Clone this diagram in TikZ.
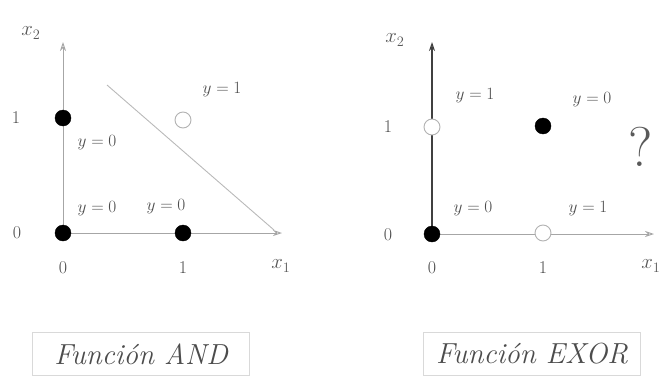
\documentclass[tikz,border=0pt]{standalone}
\usetikzlibrary{arrows.meta}
\begin{document}
\begin{tikzpicture}[x=1pt,y=-1pt,
  axis/.style={draw=gray!70,line width=0.9pt,-{Stealth[length=9pt,width=6pt,open]}},
  axisdark/.style={draw=black!75,line width=1.1pt,-{Stealth[length=9pt,width=6pt,open]}},
  sep/.style={draw=gray!55,line width=0.9pt},
  fillpt/.style={circle,fill=black,draw=black,minimum size=16pt,inner sep=0pt},
  openpt/.style={circle,draw=gray!60,line width=0.9pt,fill=white,minimum size=16pt,inner sep=0pt},
  lbl/.style={text=black!70,font=\fontsize{18}{21}\selectfont,inner sep=0pt},
  tick/.style={text=black!70,font=\fontsize{18}{21}\selectfont,inner sep=0pt},
  axlbl/.style={text=black!65,font=\fontsize{22}{26}\selectfont,inner sep=0pt},
  title/.style={draw=gray!30,line width=0.8pt,text=black!70,font=\fontsize{29}{34}\selectfont\itshape,minimum width=217pt,minimum height=43pt,inner sep=0pt},
  qmark/.style={text=black!65,font=\fontsize{56}{62}\selectfont,inner sep=0pt}]
\useasboundingbox (0,0) rectangle (665,378);

% ---------- AND ----------
\coordinate (Ao) at (63,233);
\coordinate (Ax) at (282,233);
\coordinate (Ay) at (63,42);
\draw[axis] (Ao) -- (Ax);
\draw[axis] (Ao) -- (Ay);
\coordinate (Ad1) at (107,85);
\coordinate (Ad2) at (274,230);
\draw[sep] (Ad1) -- (Ad2);
\node[fillpt] (A00) at (63,233) {};
\node[fillpt] (A10) at (183,233) {};
\node[fillpt] (A01) at (63,118) {};
\node[openpt] (A11) at (183,120) {};
\node[axlbl] (Ax2) at (31,33) {$x_2$};
\node[tick] (At1y) at (16,118) {1};
\node[tick] (At0y) at (17,233) {0};
\node[tick] (At0x) at (63,268) {0};
\node[tick] (At1x) at (183,268) {1};
\node[axlbl] (Ax1) at (281,266) {$x_1$};
\node[lbl] (Ay11) at (222,90) {$y = 1$};
\node[lbl] (Ay01) at (97,143) {$y = 0$};
\node[lbl] (Ay00) at (97,209) {$y = 0$};
\node[lbl] (Ay10) at (166,207) {$y = 0$};
\node[title] (Atitle) at (141,354) {Función AND};

% ---------- EXOR ----------
\coordinate (Eo) at (432,234);
\coordinate (Ex) at (654,234);
\coordinate (Ey) at (432,42);
\draw[axis] (Eo) -- (Ex);
\draw[axisdark] (Eo) -- (Ey);
\node[fillpt] (E00) at (432,234) {};
\node[openpt] (E10) at (543,233) {};
\node[openpt] (E01) at (432,127) {};
\node[fillpt] (E11) at (543,126) {};
\node[axlbl] (Ex2) at (395,40) {$x_2$};
\node[tick] (Et1y) at (388,127) {1};
\node[tick] (Et0y) at (388,235) {0};
\node[tick] (Et0x) at (432,268) {0};
\node[tick] (Et1x) at (543,268) {1};
\node[axlbl] (Ex1) at (651,266) {$x_1$};
\node[lbl] (Ey01) at (475,96) {$y = 1$};
\node[lbl] (Ey11) at (592,100) {$y = 0$};
\node[lbl] (Ey00) at (473,209) {$y = 0$};
\node[lbl] (Ey10) at (588,209) {$y = 1$};
\node[qmark] (Eq) at (641,147) {?};
\node[title] (Etitle) at (532,354) {Función EXOR};
\end{tikzpicture}
\end{document}
